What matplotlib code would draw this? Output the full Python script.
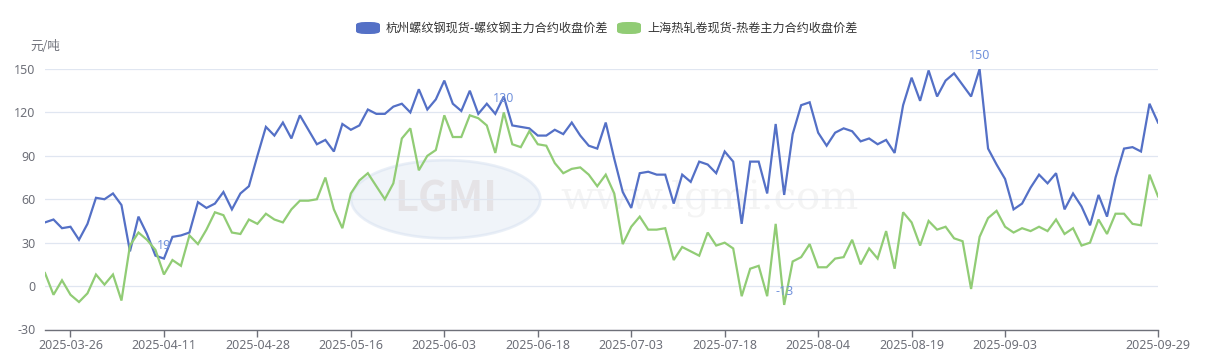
import matplotlib
matplotlib.use("Agg")
import matplotlib.pyplot as plt
from matplotlib.patches import FancyBboxPatch, Ellipse
import pandas as pd
import numpy as np

plt.rcParams['font.family'] = ['Noto Sans CJK SC', 'DejaVu Sans']

# ---- categories: trading days ----
holidays = ['2025-04-04', '2025-05-01', '2025-05-02', '2025-05-05', '2025-06-02']
dates = [d.strftime('%Y-%m-%d') for d in pd.bdate_range('2025-03-21', '2025-09-29')
         if d.strftime('%Y-%m-%d') not in holidays]

tick_labels = ['2025-03-26', '2025-04-11', '2025-04-28', '2025-05-16', '2025-06-03',
               '2025-06-18', '2025-07-03', '2025-07-18', '2025-08-04', '2025-08-19',
               '2025-09-03', '2025-09-29']

series_names = ['杭州螺纹钢现货-螺纹钢主力合约收盘价差', '上海热轧卷现货-热卷主力合约收盘价差']

rebar = [44, 46, 40, 41, 32, 43, 61, 60, 64, 56,
         24, 48, 36, 21, 19, 34, 35, 37, 58, 54,
         57, 65, 53, 64, 69, 90, 110, 104, 113, 102,
         118, 108, 98, 101, 93, 112, 108, 111, 122, 119,
         119, 124, 126, 120, 136, 122, 129, 142, 126, 121,
         135, 119, 126, 119, 131, 111, 110, 109, 104, 104,
         108, 105, 113, 104, 97, 95, 113, 88, 65, 54,
         78, 79, 77, 77, 57, 77, 72, 86, 84, 78,
         93, 86, 43, 86, 86, 64, 112, 63, 105, 125,
         127, 106, 97, 106, 109, 107, 100, 102, 98, 101,
         92, 125, 144, 128, 149, 131, 142, 147, 139, 131,
         150, 95, 84, 74, 53, 57, 68, 77, 71, 78,
         53, 64, 55, 42, 63, 48, 75, 95, 96, 93,
         126, 113]

hrc = [9, -6, 4, -6, -11, -5, 8, 1, 8, -10,
       28, 37, 32, 25, 8, 18, 14, 35, 29, 39,
       51, 49, 37, 36, 46, 43, 50, 46, 44, 53,
       59, 59, 60, 75, 53, 40, 64, 73, 78, 69,
       60, 71, 102, 109, 80, 90, 94, 118, 103, 103,
       118, 116, 111, 92, 120, 98, 96, 107, 98, 97,
       85, 78, 81, 82, 77, 69, 77, 64, 29, 41,
       48, 39, 39, 40, 18, 27, 24, 21, 37, 28,
       30, 26, -7, 12, 14, -7, 43, -13, 17, 20,
       29, 13, 13, 19, 20, 32, 15, 26, 19, 38,
       12, 51, 44, 28, 45, 39, 41, 33, 31, -2,
       34, 47, 52, 41, 37, 40, 38, 41, 38, 46,
       36, 40, 28, 30, 46, 36, 50, 50, 43, 42,
       77, 62]

yticks = [-30, 0, 30, 60, 90, 120, 150]

BLUE = '#5470c6'
GREEN = '#91cc75'
GRAY = '#6e7079'
LABEL_C = '#7393dc'

W, H = 1207, 355
fig = plt.figure(figsize=(W / 100, H / 100), dpi=100)
ax = fig.add_axes([45 / W, 1 - 329.5 / H, (1158 - 45) / W, (329.5 - 69) / H])

x = np.arange(len(dates))

# watermark
ax.text(0.597, 0.50, 'www.lgmi.com', transform=ax.transAxes, ha='center', va='center',
        fontsize=29, family='DejaVu Serif', color='#000000', alpha=0.045, zorder=0)
ell = Ellipse((0.36, 0.50), 0.17, 0.30, transform=ax.transAxes, facecolor='#e3eaf5',
              edgecolor='#d5e0f0', lw=2, alpha=0.5, zorder=0)
ax.add_patch(ell)
ax.text(0.36, 0.50, 'LGMI', transform=ax.transAxes, ha='center', va='center',
        fontsize=30, fontweight='bold', color='#d9cfcf', alpha=0.45, zorder=0)

ax.plot(x, rebar, color=BLUE, lw=1.6, zorder=3, solid_joinstyle='miter')
ax.plot(x, hrc, color=GREEN, lw=1.6, zorder=3, solid_joinstyle='miter')

# extreme labels
def mark(series, idx):
    ax.annotate(str(series[idx]), (x[idx], series[idx]), xytext=(0, 5),
                textcoords='offset points', ha='center', va='bottom',
                color=LABEL_C, fontsize=9, family='Noto Sans', zorder=5)

mark(rebar, int(np.argmax(rebar)))
mark(rebar, int(np.argmin(rebar)))
mark(hrc, int(np.argmax(hrc)))
mark(hrc, int(np.argmin(hrc)))

ax.set_xlim(0, len(dates) - 1)
ax.set_ylim(-30, 150)
ax.set_yticks(yticks)
ax.set_yticklabels([str(v) for v in yticks], color=GRAY, fontsize=9, family='Noto Sans')
ax.tick_params(axis='y', length=0, pad=7)
ax.grid(axis='y', color='#e0e6f1', lw=0.9, zorder=1)
ax.set_axisbelow(True)

pos = [dates.index(t) for t in tick_labels]
ax.set_xticks(pos)
ax.set_xticklabels(tick_labels, color=GRAY, fontsize=9, family='Noto Sans')
ax.tick_params(axis='x', length=5, color=GRAY, pad=2, width=1)

for s in ['top', 'right', 'left']:
    ax.spines[s].set_visible(False)
ax.spines['bottom'].set_color(GRAY)
ax.spines['bottom'].set_linewidth(1)

# unit label
fig.text(45 / W, 1 - 47 / H, '元/吨', ha='center', va='center', color=GRAY, fontsize=9)

# legend
def leg(x0, color, text, tx):
    p = FancyBboxPatch((x0 / W, 1 - 34 / H), 24 / W, 12 / H,
                       boxstyle='round,pad=0,rounding_size=0.008', transform=fig.transFigure,
                       facecolor=color, edgecolor='none')
    fig.patches.append(p)
    fig.text(tx / W, 1 - 28 / H, text, ha='left', va='center', fontsize=8.7, color='#333333')

leg(356, BLUE, series_names[0], 386)
leg(617, GREEN, series_names[1], 647)

fig.savefig('out.png', dpi=100)
